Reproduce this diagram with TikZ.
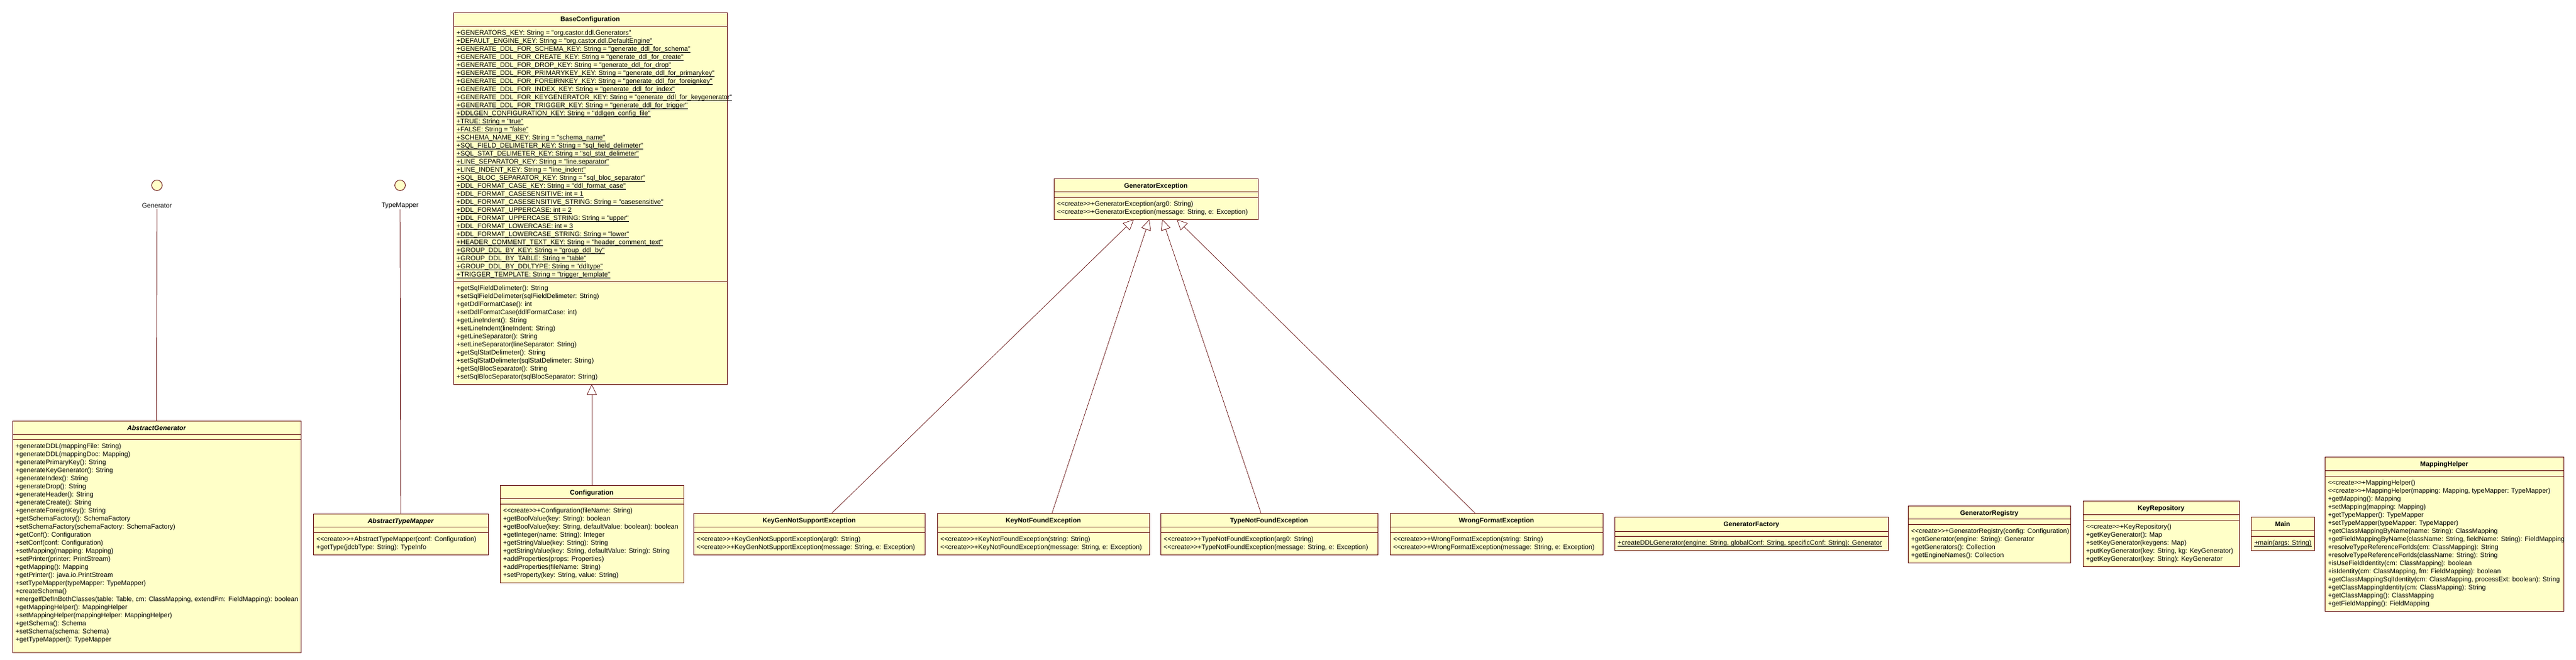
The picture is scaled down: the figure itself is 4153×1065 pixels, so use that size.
\documentclass[tikz,border=0pt]{standalone}
\usepackage{fontspec}
\newfontfamily\umlfont{Liberation Sans}
\usetikzlibrary{arrows.meta}
\definecolor{umlfill}{HTML}{FFFFC8}
\definecolor{umlline}{HTML}{661010}
\newcommand\ulx[1]{\setbox0\hbox{#1}\rlap{\rule[-1.7pt]{\wd0}{0.65pt}}\box0}
\tikzset{
 classbox/.style={draw=umlline, fill=umlfill, line width=0.9pt, anchor=north west, inner sep=0pt, outer sep=0pt},
 seprule/.style={draw=umlline, line width=0.9pt},
 titletext/.style={anchor=base, inner sep=0pt, font=\umlfont\bfseries\fontsize{10.7}{13}\selectfont},
 bodytext/.style={anchor=north west, align=left, inner sep=0pt, font=\umlfont\fontsize{10.7}{13}\selectfont},
 genl/.style={draw=umlline, line width=0.7pt, -{Triangle[open, length=17pt, width=16pt]}},
 iface/.style={circle, draw=umlline, fill=umlfill, line width=0.9pt, minimum size=17pt, inner sep=0pt},
 ifacelabel/.style={inner sep=1pt, font=\umlfont\fontsize{10.7}{13}\selectfont},
 realize/.style={draw=umlline, line width=0.9pt},
}
\newcommand\umlclass[9]{%
 \node[classbox, minimum width={#4-#2}, minimum height={#5-#3}] (#1) at (#2,#3) {};
 \draw[seprule] (#2,#6) -- (#4,#6);
 \draw[seprule] (#2,#7) -- (#4,#7);
 \node[titletext] (#1-title) at ({(#2+#4)/2},{#3+15}) {#8};
 \node[bodytext] (#1-body) at ({#2+5},{#7+4.5}) {\rule{0pt}{10pt}#9};
}
\begin{document}
\begin{tikzpicture}[x=1pt,y=-1pt]
\path[use as bounding box, fill=white] (0,0) rectangle (4153,1065);

% interfaces
\node[iface] (gen) at (253,299) {};
\node[ifacelabel] (gen-l) at (253,332) {Generator};
\node[iface] (tm) at (645,299) {};
\node[ifacelabel] (tm-l) at (645,332) {TypeMapper};

% BaseConfiguration
\umlclass{basecfg}{731}{20}{1172}{620}{42}{454}{BaseConfiguration}{%
+getSqlFieldDelimeter(): String\\
+setSqlFieldDelimeter(sqlFieldDelimeter: String)\\
+getDdlFormatCase(): int\\
+setDdlFormatCase(ddlFormatCase: int)\\
+getLineIndent(): String\\
+setLineIndent(lineIndent: String)\\
+getLineSeparator(): String\\
+setLineSeparator(lineSeparator: String)\\
+getSqlStatDelimeter(): String\\
+setSqlStatDelimeter(sqlStatDelimeter: String)\\
+getSqlBlocSeparator(): String\\
+setSqlBlocSeparator(sqlBlocSeparator: String)}
\node[bodytext] (basecfg-attr) at (736,46.5) {\rule{0pt}{10pt}%
\ulx{+GENERATORS\_KEY: String = "org.castor.ddl.Generators"}\\
\ulx{+DEFAULT\_ENGINE\_KEY: String = "org.castor.ddl.DefaultEngine"}\\
\ulx{+GENERATE\_DDL\_FOR\_SCHEMA\_KEY: String = "generate\_ddl\_for\_schema"}\\
\ulx{+GENERATE\_DDL\_FOR\_CREATE\_KEY: String = "generate\_ddl\_for\_create"}\\
\ulx{+GENERATE\_DDL\_FOR\_DROP\_KEY: String = "generate\_ddl\_for\_drop"}\\
\ulx{+GENERATE\_DDL\_FOR\_PRIMARYKEY\_KEY: String = "generate\_ddl\_for\_primarykey"}\\
\ulx{+GENERATE\_DDL\_FOR\_FOREIRNKEY\_KEY: String = "generate\_ddl\_for\_foreignkey"}\\
\ulx{+GENERATE\_DDL\_FOR\_INDEX\_KEY: String = "generate\_ddl\_for\_index"}\\
\ulx{+GENERATE\_DDL\_FOR\_KEYGENERATOR\_KEY: String = "generate\_ddl\_for\_keygenerator"}\\
\ulx{+GENERATE\_DDL\_FOR\_TRIGGER\_KEY: String = "generate\_ddl\_for\_trigger"}\\
\ulx{+DDLGEN\_CONFIGURATION\_KEY: String = "ddlgen\_config\_file"}\\
\ulx{+TRUE: String = "true"}\\
\ulx{+FALSE: String = "false"}\\
\ulx{+SCHEMA\_NAME\_KEY: String = "schema\_name"}\\
\ulx{+SQL\_FIELD\_DELIMETER\_KEY: String = "sql\_field\_delimeter"}\\
\ulx{+SQL\_STAT\_DELIMETER\_KEY: String = "sql\_stat\_delimeter"}\\
\ulx{+LINE\_SEPARATOR\_KEY: String = "line.separator"}\\
\ulx{+LINE\_INDENT\_KEY: String = "line\_indent"}\\
\ulx{+SQL\_BLOC\_SEPARATOR\_KEY: String = "sql\_bloc\_separator"}\\
\ulx{+DDL\_FORMAT\_CASE\_KEY: String = "ddl\_format\_case"}\\
\ulx{+DDL\_FORMAT\_CASESENSITIVE: int = 1}\\
\ulx{+DDL\_FORMAT\_CASESENSITIVE\_STRING: String = "casesensitive"}\\
\ulx{+DDL\_FORMAT\_UPPERCASE: int = 2}\\
\ulx{+DDL\_FORMAT\_UPPERCASE\_STRING: String = "upper"}\\
\ulx{+DDL\_FORMAT\_LOWERCASE: int = 3}\\
\ulx{+DDL\_FORMAT\_LOWERCASE\_STRING: String = "lower"}\\
\ulx{+HEADER\_COMMENT\_TEXT\_KEY: String = "header\_comment\_text"}\\
\ulx{+GROUP\_DDL\_BY\_KEY: String = "group\_ddl\_by"}\\
\ulx{+GROUP\_DDL\_BY\_TABLE: String = "table"}\\
\ulx{+GROUP\_DDL\_BY\_DDLTYPE: String = "ddltype"}\\
\ulx{+TRIGGER\_TEMPLATE: String = "trigger\_template"}};

% AbstractGenerator
\umlclass{abgen}{20}{679}{485}{1053}{701}{709}{\itshape AbstractGenerator}{%
+generateDDL(mappingFile: String)\\
+generateDDL(mappingDoc: Mapping)\\
+generatePrimaryKey(): String\\
+generateKeyGenerator(): String\\
+generateIndex(): String\\
+generateDrop(): String\\
+generateHeader(): String\\
+generateCreate(): String\\
+generateForeignKey(): String\\
+getSchemaFactory(): SchemaFactory\\
+setSchemaFactory(schemaFactory: SchemaFactory)\\
+getConf(): Configuration\\
+setConf(conf: Configuration)\\
+setMapping(mapping: Mapping)\\
+setPrinter(printer: PrintStream)\\
+getMapping(): Mapping\\
+getPrinter(): java.io.PrintStream\\
+setTypeMapper(typeMapper: TypeMapper)\\
+createSchema()\\
+mergeIfDefInBothClasses(table: Table, cm: ClassMapping, extendFm: FieldMapping): boolean\\
+getMappingHelper(): MappingHelper\\
+setMappingHelper(mappingHelper: MappingHelper)\\
+getSchema(): Schema\\
+setSchema(schema: Schema)\\
+getTypeMapper(): TypeMapper}

% AbstractTypeMapper
\umlclass{abtm}{505}{829}{787}{895}{850}{859}{\itshape AbstractTypeMapper}{%
<<create>>+AbstractTypeMapper(conf: Configuration)\\
+getType(jdcbType: String): TypeInfo}

% Configuration
\umlclass{config}{806}{783}{1102}{940}{804}{813}{Configuration}{%
<<create>>+Configuration(fileName: String)\\
+getBoolValue(key: String): boolean\\
+getBoolValue(key: String, defaultValue: boolean): boolean\\
+getInteger(name: String): Integer\\
+getStringValue(key: String): String\\
+getStringValue(key: String, defaultValue: String): String\\
+addProperties(props: Properties)\\
+addProperties(fileName: String)\\
+setProperty(key: String, value: String)}

% exceptions
\umlclass{genex}{1699}{288}{2028}{354}{309}{318}{GeneratorException}{%
<<create>>+GeneratorException(arg0: String)\\
<<create>>+GeneratorException(message: String, e: Exception)}
\umlclass{kgns}{1118}{828}{1491}{895}{850}{859}{KeyGenNotSupportException}{%
<<create>>+KeyGenNotSupportException(arg0: String)\\
<<create>>+KeyGenNotSupportException(message: String, e: Exception)}
\umlclass{knf}{1511}{828}{1853}{895}{850}{859}{KeyNotFoundException}{%
<<create>>+KeyNotFoundException(string: String)\\
<<create>>+KeyNotFoundException(message: String, e: Exception)}
\umlclass{tnf}{1871}{828}{2221}{895}{850}{859}{TypeNotFoundException}{%
<<create>>+TypeNotFoundException(arg0: String)\\
<<create>>+TypeNotFoundException(message: String, e: Exception)}
\umlclass{wfe}{2241}{828}{2584}{895}{850}{859}{WrongFormatException}{%
<<create>>+WrongFormatException(string: String)\\
<<create>>+WrongFormatException(message: String, e: Exception)}

% other classes
\umlclass{gfac}{2603}{834}{3044}{888}{857}{865}{GeneratorFactory}{%
\ulx{+createDDLGenerator(engine: String, globalConf: String, specificConf: String): Generator}}
\umlclass{greg}{3076}{816}{3338}{908}{837}{846}{GeneratorRegistry}{%
<<create>>+GeneratorRegistry(config: Configuration)\\
+getGenerator(engine: String): Generator\\
+getGenerators(): Collection\\
+getEngineNames(): Collection}
\umlclass{keyrep}{3358}{808}{3610}{914}{830}{839}{KeyRepository}{%
<<create>>+KeyRepository()\\
+getKeyGenerator(): Map\\
+setKeyGenerator(keygens: Map)\\
+putKeyGenerator(key: String, kg: KeyGenerator)\\
+getKeyGenerator(key: String): KeyGenerator}
\umlclass{main}{3629}{834}{3731}{888}{856}{865}{Main}{%
\ulx{+main(args: String)}}
\umlclass{maphelp}{3748}{737}{4133}{986}{759}{768}{MappingHelper}{%
<<create>>+MappingHelper()\\
<<create>>+MappingHelper(mapping: Mapping, typeMapper: TypeMapper)\\
+getMapping(): Mapping\\
+setMapping(mapping: Mapping)\\
+getTypeMapper(): TypeMapper\\
+setTypeMapper(typeMapper: TypeMapper)\\
+getClassMappingByName(name: String): ClassMapping\\
+getFieldMappingByName(className: String, fieldName: String): FieldMapping\\
+resolveTypeReferenceForIds(cm: ClassMapping): String\\
+resolveTypeReferenceForIds(className: String): String\\
+isUseFieldIdentity(cm: ClassMapping): boolean\\
+isIdentity(cm: ClassMapping, fm: FieldMapping): boolean\\
+getClassMappingSqlIdentity(cm: ClassMapping, processExt: boolean): String\\
+getClassMappingIdentity(cm: ClassMapping): String\\
+getClassMapping(): ClassMapping\\
+getFieldMapping(): FieldMapping}

% connectors
\draw[realize] (gen-l.south) -- (abgen.north);
\draw[realize] (tm-l.south) -- (abtm.north);
\draw[genl] (config.north) -- (config.north |- basecfg.south);
\draw[genl] ([xshift=223pt]kgns.north west) -- ([xshift=129pt]genex.south west);
\draw[genl] ([xshift=185pt]knf.north west) -- ([xshift=154pt]genex.south west);
\draw[genl] ([xshift=162pt]tnf.north west) -- ([xshift=175pt]genex.south west);
\draw[genl] ([xshift=137pt]wfe.north west) -- ([xshift=198pt]genex.south west);
\end{tikzpicture}
\end{document}
